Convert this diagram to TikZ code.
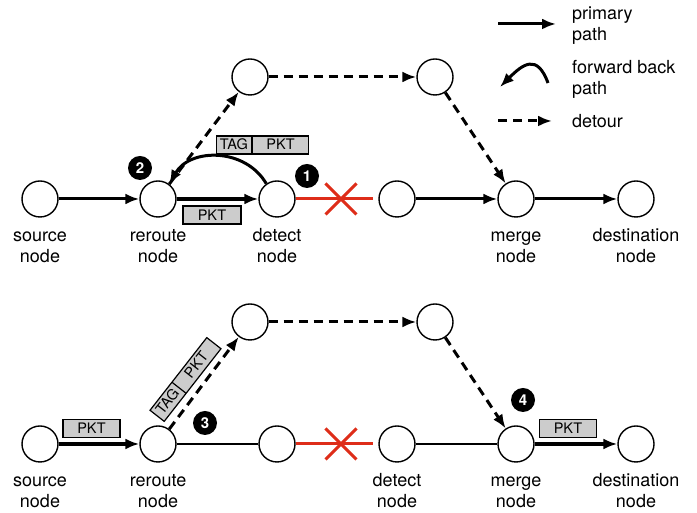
\documentclass[tikz,border=0pt]{standalone}
\usepackage{fontspec}
\setmainfont{TeX Gyre Heros}
\usetikzlibrary{arrows.meta,positioning,shapes.misc,shapes.multipart}

\definecolor{failred}{RGB}{222,45,25}
\definecolor{boxgray}{RGB}{204,204,204}

\newcommand{\tagpart}{\makebox[35pt]{\rule[-4.5pt]{0pt}{18pt}TAG}}
\newcommand{\pktpart}{\makebox[56pt]{\rule[-4.5pt]{0pt}{18pt}PKT}}

\tikzset{
    router/.style={circle,draw,line width=1.4pt,minimum size=36pt,inner sep=0pt,fill=white},
    lbl/.style={align=center,inner sep=0pt,font=\fontsize{18}{21}\selectfont},
    legtext/.style={align=left,anchor=north west,inner sep=0pt,font=\fontsize{18}{21}\selectfont},
    primary/.style={->,line width=3pt},
    pktpath/.style={->,line width=3.8pt},
    detour/.style={->,line width=3pt,dash pattern=on 9pt off 6pt},
    idle/.style={line width=1.4pt},
    failed/.style={line width=3pt,draw=failred},
    cross/.style={cross out,draw=failred,line width=3pt,minimum size=28pt,inner sep=0pt},
    badge/.style={circle,fill=black,text=white,minimum size=24pt,inner sep=0pt,font=\fontsize{15}{15}\selectfont\bfseries},
    pkt/.style={draw,line width=1.2pt,fill=boxgray,minimum height=18pt,inner sep=0pt,font=\fontsize{14.5}{15}\selectfont},
    tagged/.style={pkt,rectangle split,rectangle split horizontal,rectangle split parts=2},
}

\begin{document}
\begin{tikzpicture}[x=1pt,y=1pt,>={Latex[length=14pt,width=11pt]}]
    \useasboundingbox (0,0) rectangle (697,513);

    % legend
    \coordinate (lp1) at (498,489);
    \coordinate (lp2) at (556,489);
    \coordinate (lf1) at (548,430);
    \coordinate (lf2) at (500,426);
    \coordinate (ld1) at (498,392);
    \coordinate (ld2) at (552,392);
    \draw[primary] (lp1)--(lp2);
    \draw[primary] (lf1) to[out=110,in=45,looseness=1.7] (lf2);
    \draw[detour] (ld1)--(ld2);
    \node[legtext] (lptext) at (572,508) {\strut primary\\path};
    \node[legtext] (lftext) at (572,454) {\strut forward back\\path};
    \node[legtext] (ldtext) at (572,400) {\strut detour};

    % upper scenario
    \node[router] (tsrc) at (40,314) {};
    \node[router] (treroute) at (158,314) {};
    \node[router] (tdetect) at (277,314) {};
    \node[router] (tnext) at (397,314) {};
    \node[router] (tmerge) at (516,314) {};
    \node[router] (tdest) at (636,314) {};
    \node[router] (tup1) at (250,436) {};
    \node[router] (tup2) at (435,436) {};

    \node[lbl,anchor=north,below=9pt of tsrc] (tsrclbl) {\strut source\\node};
    \node[lbl,anchor=north,below=9pt of treroute] (treroutelbl) {\strut reroute\\node};
    \node[lbl,anchor=north,below=9pt of tdetect] (tdetectlbl) {\strut detect\\node};
    \node[lbl,anchor=north,below=9pt of tmerge] (tmergelbl) {\strut merge\\node};
    \node[lbl,anchor=north,below=9pt of tdest] (tdestlbl) {\strut destination\\node};

    \draw[primary] (tsrc)--(treroute);
    \draw[pktpath] (treroute)--(tdetect);
    \draw[failed,shorten >=5pt] (tdetect)--(tnext);
    \node[cross] (tfail) at (341,314) {};
    \draw[primary] (tnext)--(tmerge);
    \draw[primary] (tmerge)--(tdest);
    \draw[detour] (treroute)--(tup1);
    \draw[detour] (tup1)--(tup2);
    \draw[detour] (tup2)--(tmerge);
    \draw[primary] (tdetect.125) to[bend right=60,looseness=1.1] (treroute.53);

    \node[tagged] (ttag) at (262.5,368) {\tagpart\nodepart{two}\pktpart};
    \node[pkt,minimum width=58pt] (tpkt) at (212,298) {PKT};

    \node[badge] (tone) at (307,337) {1};
    \node[badge] (ttwo) at (140,345) {2};

    % lower scenario
    \node[router] (bsrc) at (40,69) {};
    \node[router] (breroute) at (158,69) {};
    \node[router] (bmid) at (277,69) {};
    \node[router] (bdetect) at (397,69) {};
    \node[router] (bmerge) at (516,69) {};
    \node[router] (bdest) at (636,69) {};
    \node[router] (bup1) at (250,191) {};
    \node[router] (bup2) at (435,191) {};

    \node[lbl,anchor=north,below=9pt of bsrc] (bsrclbl) {\strut source\\node};
    \node[lbl,anchor=north,below=9pt of breroute] (breroutelbl) {\strut reroute\\node};
    \node[lbl,anchor=north,below=9pt of bdetect] (bdetectlbl) {\strut detect\\node};
    \node[lbl,anchor=north,below=9pt of bmerge] (bmergelbl) {\strut merge\\node};
    \node[lbl,anchor=north,below=9pt of bdest] (bdestlbl) {\strut destination\\node};

    \draw[pktpath] (bsrc)--(breroute);
    \draw[idle] (breroute)--(bmid);
    \draw[failed,shorten >=5pt] (bmid)--(bdetect);
    \node[cross] (bfail) at (341,69) {};
    \draw[idle] (bdetect)--(bmerge);
    \draw[pktpath] (bmerge)--(bdest);
    \draw[detour] (breroute)--(bup1);
    \draw[detour] (bup1)--(bup2);
    \draw[detour] (bup2)--(bmerge);

    \node[pkt,minimum width=57pt] (bpkt1) at (91.5,84.5) {PKT};
    \node[pkt,minimum width=57pt] (bpkt2) at (568,84.5) {PKT};
    \node[tagged,rotate=52] (btag) at (185.5,133.5) {\tagpart\nodepart{two}\pktpart};

    \node[badge] (bthree) at (205,90) {3};
    \node[badge] (bfour) at (523,113) {4};
\end{tikzpicture}
\end{document}
